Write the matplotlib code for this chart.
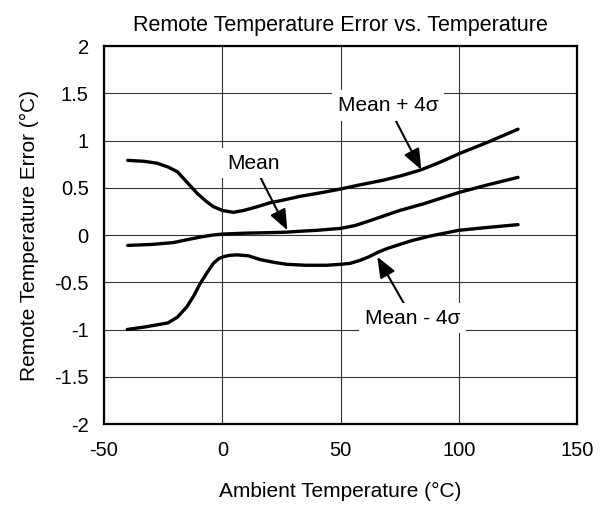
import numpy as np
import matplotlib.pyplot as plt

plt.rcParams['font.family'] = ['Liberation Sans', 'DejaVu Sans']
plt.rcParams['axes.unicode_minus'] = False

# curves (temperature in degC, error in degC)
t_hi = [-40, -33, -27.6, -23, -19, -15, -10.6, -7, -3.8, 0, 4.7, 9, 14.8, 20, 25.8, 33, 40, 48.6, 58, 68, 76, 84, 92, 100, 112, 125]
e_hi = [0.79, 0.78, 0.76, 0.72, 0.67, 0.56, 0.44, 0.36, 0.30, 0.26, 0.24, 0.26, 0.30, 0.34, 0.37, 0.41, 0.44, 0.48, 0.53, 0.58, 0.63, 0.69, 0.77, 0.86, 0.98, 1.12]

t_mean = [-40, -30, -20.7, -15, -9, -4, 0, 10, 20, 27, 33, 40, 50, 56, 61, 68, 75, 85, 100, 112, 125]
e_mean = [-0.11, -0.10, -0.08, -0.05, -0.02, 0.0, 0.01, 0.02, 0.025, 0.03, 0.04, 0.05, 0.07, 0.10, 0.14, 0.20, 0.26, 0.33, 0.45, 0.53, 0.61]

t_lo = [-40.2, -32, -23, -19, -15, -12, -9.3, -6.5, -3.8, -1.5, 0.4, 3, 6.2, 11, 16, 22, 27.3, 35, 44, 50, 54, 58, 62, 66, 70, 75, 80, 88, 100, 112, 125]
e_lo = [-1.0, -0.97, -0.93, -0.87, -0.76, -0.64, -0.51, -0.40, -0.30, -0.25, -0.23, -0.215, -0.21, -0.22, -0.26, -0.29, -0.31, -0.32, -0.32, -0.31, -0.30, -0.27, -0.23, -0.18, -0.14, -0.10, -0.06, -0.01, 0.05, 0.08, 0.11]

x_ticks = [-50, 0, 50, 100, 150]
y_ticks = [-2, -1.5, -1, -0.5, 0, 0.5, 1, 1.5, 2]
y_labels = ['-2', '-1.5', '-1', '-0.5', '0', '0.5', '1', '1.5', '2']

fig = plt.figure(figsize=(6.05, 5.07), dpi=100)
ax = fig.add_axes([0.172, 0.1637, 0.782, 0.7455])

for t, e in [(t_hi, e_hi), (t_mean, e_mean), (t_lo, e_lo)]:
    ax.plot(t, e, color='black', lw=2.4, solid_capstyle='round', zorder=3)

ax.set_xlim(-50, 150)
ax.set_ylim(-2, 2)
ax.set_xticks(x_ticks)
ax.set_yticks(y_ticks)
ax.set_yticklabels(y_labels)
ax.tick_params(length=0, labelsize=14.5)
ax.tick_params(axis='x', pad=12)
ax.tick_params(axis='y', pad=11)
ax.grid(True, color='#333333', lw=0.8)
ax.set_axisbelow(True)
for s in ax.spines.values():
    s.set_linewidth(1.6)

ax.set_title('Remote Temperature Error vs. Temperature', fontsize=15.5, pad=11)
ax.set_xlabel('Ambient Temperature (\u00b0C)', fontsize=15, labelpad=16)
ax.set_ylabel('Remote Temperature Error (\u00b0C)', fontsize=15, labelpad=11)

box = dict(facecolor='white', edgecolor='none', pad=4)
arrow = dict(arrowstyle='-|>,head_length=0.7,head_width=0.28', color='black', lw=1.5,
             mutation_scale=18, shrinkA=0, shrinkB=0)
ax.annotate('Mean + 4\u03c3', xy=(84.1, 0.69), xytext=(70, 1.37), ha='center', va='center',
            fontsize=15, bbox=box, arrowprops=arrow, zorder=4)
ax.annotate('Mean', xy=(27.5, 0.05), xytext=(13, 0.76), ha='center', va='center',
            fontsize=15, bbox=box, arrowprops=arrow, zorder=4)
ax.annotate('Mean - 4\u03c3', xy=(65.5, -0.23), xytext=(80.3, -0.88), ha='center', va='center',
            fontsize=15, bbox=box, arrowprops=arrow, zorder=4)

fig.savefig('out.png', dpi=100)
